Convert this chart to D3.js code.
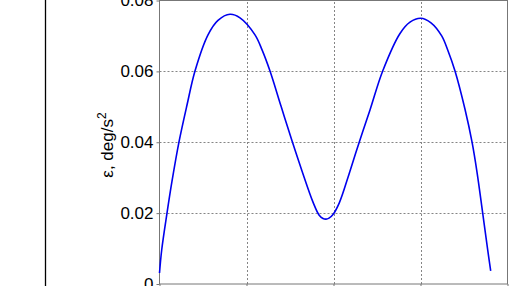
<!DOCTYPE html>
<html>
<head>
<meta charset="utf-8">
<script src="https://cdn.jsdelivr.net/npm/d3@7"></script>
<style>
  html, body { margin: 0; padding: 0; background: #fff; }
  svg { display: block; }
  text { font-family: "Liberation Sans", Arial, Helvetica, sans-serif; }
</style>
</head>
<body>
<svg id="chart" width="510" height="286"></svg>
<script>
// ---- data ----
const tValues = [0, 0.0253, 0.0862, 0.1437, 0.2241, 0.3161, 0.4080, 0.5575, 0.6724, 0.8103, 0.9253, 1.0977, 1.1800, 1.2701, 1.3966, 1.5230, 1.6379, 1.7644, 1.8333, 1.8793, 1.9138, 1.9483, 1.9943, 2.0667, 2.1782, 2.2966, 2.4195, 2.5655, 2.7644, 2.8793, 3.0023, 3.1207, 3.2437, 3.3160, 3.3966, 3.5115, 3.5920, 3.6494, 3.7149, 3.7724, 3.8069];
const epsValues = [0.0031, 0.0096, 0.0200, 0.0290, 0.0401, 0.0505, 0.0601, 0.0703, 0.0744, 0.0761, 0.0751, 0.0703, 0.0660, 0.0601, 0.0502, 0.0404, 0.0319, 0.0231, 0.0195, 0.0185, 0.0183, 0.0186, 0.0196, 0.0229, 0.0310, 0.0401, 0.0491, 0.0601, 0.0707, 0.0739, 0.0750, 0.0737, 0.0700, 0.0658, 0.0601, 0.0493, 0.0401, 0.0316, 0.0200, 0.0096, 0.0037];
const xTicks = [0, 1, 2, 3, 4];
const yTicks = [0, 0.02, 0.04, 0.06, 0.08];
const yTickLabels = ["0", "0.02", "0.04", "0.06", "0.08"];
const yLabel = "ε, deg/s";
const yLabelSup = "2";

// ---- layout ----
const svg = d3.select("#chart");
const x = d3.scaleLinear().domain([0, 4]).range([159.5, 507.5]);
const y = d3.scaleLinear().domain([0, 0.08]).range([284, 0.5]);

// stray vertical line (edge of neighbouring panel)
svg.append("line")
  .attr("x1", 45.5).attr("x2", 45.5).attr("y1", 0).attr("y2", 286)
  .attr("stroke", "#000").attr("stroke-width", 1.3);

// grid
const grid = svg.append("g").attr("stroke", "#858585").attr("stroke-width", 1).attr("stroke-dasharray", "2,2");
grid.selectAll("line.gy").data(yTicks.slice(1, -1)).join("line")
  .attr("x1", x(0)).attr("x2", x(4))
  .attr("y1", d => Math.round(y(d)) + 0.5).attr("y2", d => Math.round(y(d)) + 0.5);
grid.selectAll("line.gx").data(xTicks.slice(1, -1)).join("line")
  .attr("y1", y(0)).attr("y2", y(0.08))
  .attr("x1", d => Math.round(x(d)) + 0.5).attr("x2", d => Math.round(x(d)) + 0.5);

// axes
const yAxis = d3.axisLeft(y).tickValues(yTicks).tickSize(3).tickPadding(3)
  .tickFormat((d, i) => yTickLabels[i]);
const gy = svg.append("g").attr("transform", `translate(${x(0)},0)`).call(yAxis);
gy.select(".domain").remove();
gy.selectAll(".tick line").attr("stroke", "#777");
gy.selectAll(".tick text").attr("font-size", 17).attr("fill", "#000")
  .attr("font-family", "'Liberation Sans', Arial, sans-serif");

// x ticks (their labels lie below the visible area)
const xAxis = d3.axisBottom(x).tickValues(xTicks).tickSize(3).tickPadding(9);
const gx = svg.append("g").attr("transform", `translate(0,${y(0)})`).call(xAxis);
gx.select(".domain").remove();
gx.selectAll(".tick line").attr("stroke", "#777");
gx.selectAll(".tick text").attr("font-size", 17).attr("fill", "#000");

// box
svg.append("rect")
  .attr("x", x(0)).attr("y", y(0.08))
  .attr("width", x(4) - x(0)).attr("height", y(0) - y(0.08))
  .attr("fill", "none").attr("stroke", "#777").attr("stroke-width", 1);

// y label
const yl = svg.append("text")
  .attr("transform", `translate(113,145) rotate(-90)`)
  .attr("text-anchor", "middle")
  .attr("font-size", 17).attr("fill", "#000");
yl.append("tspan").text(yLabel);
yl.append("tspan").attr("font-size", 12).attr("dy", -7).text(yLabelSup);

// curve
const pts = tValues.map((t, i) => [t, epsValues[i]]);
svg.append("path")
  .datum(pts)
  .attr("fill", "none")
  .attr("stroke", "#0000ee")
  .attr("stroke-width", 1.6)
  .attr("d", d3.line().x(d => x(d[0])).y(d => y(d[1])).curve(d3.curveCatmullRom.alpha(0.5)));
</script>
</body>
</html>
